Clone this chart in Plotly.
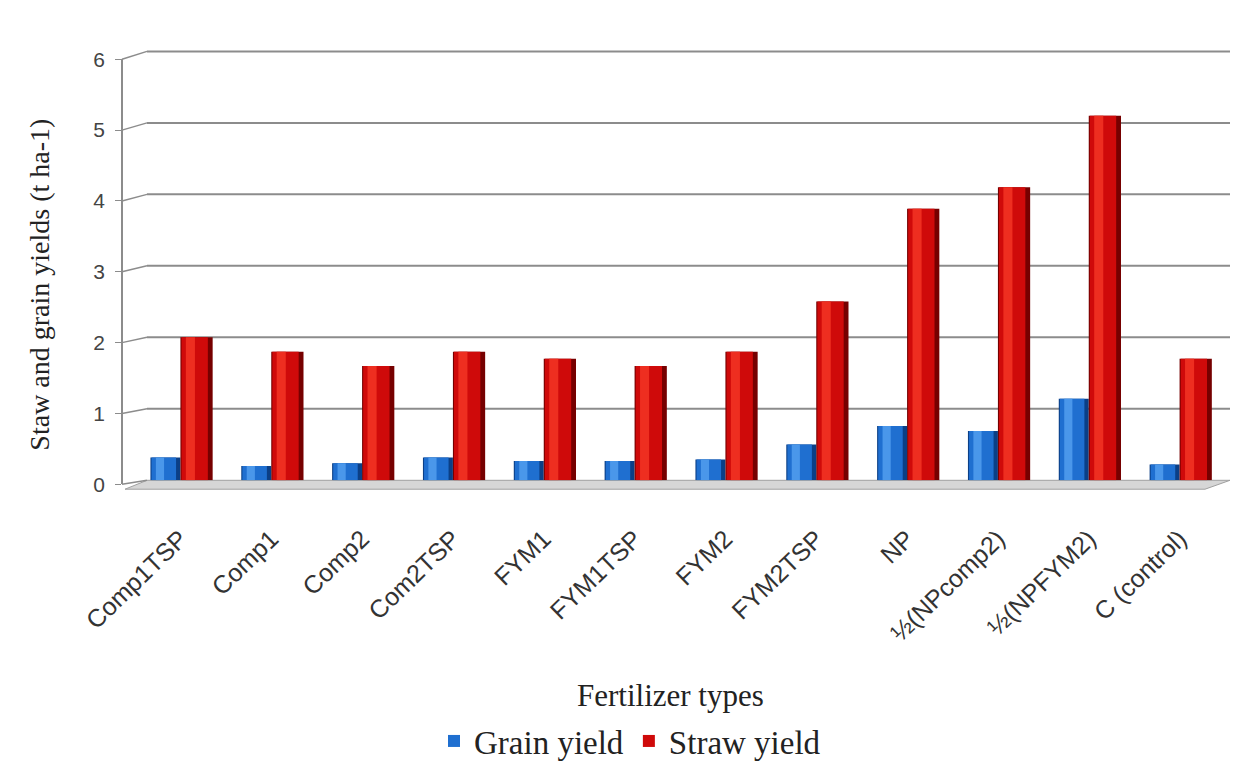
import plotly.graph_objects as go

# Fertilizer treatments and yields (t ha-1)
categories = ["Comp1TSP", "Comp1", "Comp2", "Com2TSP", "FYM1", "FYM1TSP",
              "FYM2", "FYM2TSP", "NP", "½(NPcomp2)", "½(NPFYM2)", "C (control)"]
grain_yield = [0.32, 0.20, 0.24, 0.32, 0.27, 0.27, 0.29, 0.50, 0.76, 0.69, 1.14, 0.22]
straw_yield = [2.00, 1.80, 1.60, 1.80, 1.70, 1.60, 1.80, 2.50, 3.80, 4.10, 5.10, 1.70]
y_ticks = [0, 1, 2, 3, 4, 5, 6]

W, H = 1239, 769


def px(x):
    return x / W


def py(y):
    return 1 - y / H


# pixel geometry of the pseudo-3D box
BACK_BOTTOM, BACK_TOP = 486, 52      # back wall: value 0 and 6
FRONT_BOTTOM, FRONT_TOP = 490, 60    # front axis: value 0 and 6
FRONT_X, BACK_X, RIGHT_X = 122, 147, 1230
back_scale = (BACK_BOTTOM - BACK_TOP) / 6
front_scale = (FRONT_BOTTOM - FRONT_TOP) / 6

fig = go.Figure()

# Cylinder-like shading: dark edge, body, highlight strip
blue_layers = [(-0.33, 0.33, "#0b3f86", False),
               (-0.318, 0.27, "#1f6fd0", True),
               (-0.27, 0.09, "#4a97ea", False)]
red_layers = [(0.0, 0.355, "#760000", False),
              (0.012, 0.29, "#cf0a0a", True),
              (0.06, 0.10, "#ee2e20", False)]

for off, wid, col, leg in blue_layers:
    fig.add_trace(go.Bar(x=categories, y=grain_yield, offset=off, width=wid,
                         marker=dict(color=col, line=dict(width=0)),
                         name="Grain yield", showlegend=leg, legendrank=1,
                         hoverinfo="skip" if not leg else None))
for off, wid, col, leg in red_layers:
    fig.add_trace(go.Bar(x=categories, y=straw_yield, offset=off, width=wid,
                         marker=dict(color=col, line=dict(width=0)),
                         name="Straw yield", showlegend=leg, legendrank=2,
                         hoverinfo="skip" if not leg else None))

# carrier for the front value axis
fig.add_trace(go.Scatter(x=[], y=[], yaxis="y2", showlegend=False, hoverinfo="skip"))

shapes = []
# floor
shapes.append(dict(type="path", xref="paper", yref="paper", layer="below",
                   path=(f"M {px(FRONT_X + 3)} {py(495)} L {px(RIGHT_X - 25)} {py(495)} "
                         f"L {px(RIGHT_X)} {py(BACK_BOTTOM)} L {px(BACK_X)} {py(BACK_BOTTOM)} Z"),
                   fillcolor="#d6d6d6", line=dict(color="#a0a0a0", width=1)))
for v in y_ticks:
    # back wall gridline
    if v > 0:
        shapes.append(dict(type="line", xref="paper", yref="paper", layer="below",
                           x0=px(BACK_X), x1=px(RIGHT_X),
                           y0=py(BACK_BOTTOM - v * back_scale), y1=py(BACK_BOTTOM - v * back_scale),
                           line=dict(color="#8c8c8c", width=2)))
    # side connector from front axis to the back wall
    shapes.append(dict(type="line", xref="paper", yref="paper", layer="below",
                       x0=px(FRONT_X), x1=px(BACK_X),
                       y0=py(FRONT_BOTTOM - v * front_scale), y1=py(BACK_BOTTOM - v * back_scale),
                       line=dict(color="#8c8c8c", width=1.5)))

fig.update_layout(
    width=W, height=H,
    margin=dict(l=0, r=0, t=0, b=0),
    paper_bgcolor="white", plot_bgcolor="rgba(0,0,0,0)",
    barmode="overlay",
    shapes=shapes,
    xaxis=dict(domain=[px(135), px(1225)], type="category", range=[-0.5, 11.5],
               tickangle=-44, ticks="", showline=False, showgrid=False, zeroline=False,
               tickfont=dict(family="Liberation Sans", size=25, color="#333"),
               ticklabelstandoff=38, automargin=False, anchor="y"),
    yaxis=dict(domain=[py(BACK_BOTTOM), py(BACK_TOP)], range=[0, 6],
               visible=False, showgrid=False, zeroline=False),
    yaxis2=dict(domain=[py(FRONT_BOTTOM), py(FRONT_TOP)], range=[0, 6],
                anchor="free", position=px(FRONT_X), side="left",
                showline=True, linecolor="#8c8c8c", linewidth=1.5,
                ticks="outside", ticklen=6, tickcolor="#8c8c8c",
                tickvals=y_ticks, showgrid=False, zeroline=False,
                tickfont=dict(family="Liberation Sans", size=21, color="#444"),
                ticklabelstandoff=6, automargin=False),
    legend=dict(orientation="h", x=px(630), xanchor="center", y=py(750), yanchor="middle",
                font=dict(family="Liberation Serif", size=33, color="#222"),
                traceorder="normal", itemwidth=30, bgcolor="rgba(0,0,0,0)"),
    annotations=[
        dict(text="Staw and grain yields (t ha-1)", xref="paper", yref="paper",
             x=px(40), y=py(288), xanchor="center", yanchor="middle",
             textangle=-90, showarrow=False,
             font=dict(family="Liberation Serif", size=28, color="#222")),
        dict(text="Fertilizer types", xref="paper", yref="paper",
             x=px(670), y=py(704), xanchor="center", yanchor="middle", showarrow=False,
             font=dict(family="Liberation Serif", size=31, color="#222")),
    ],
)

fig.write_html("out.html")
